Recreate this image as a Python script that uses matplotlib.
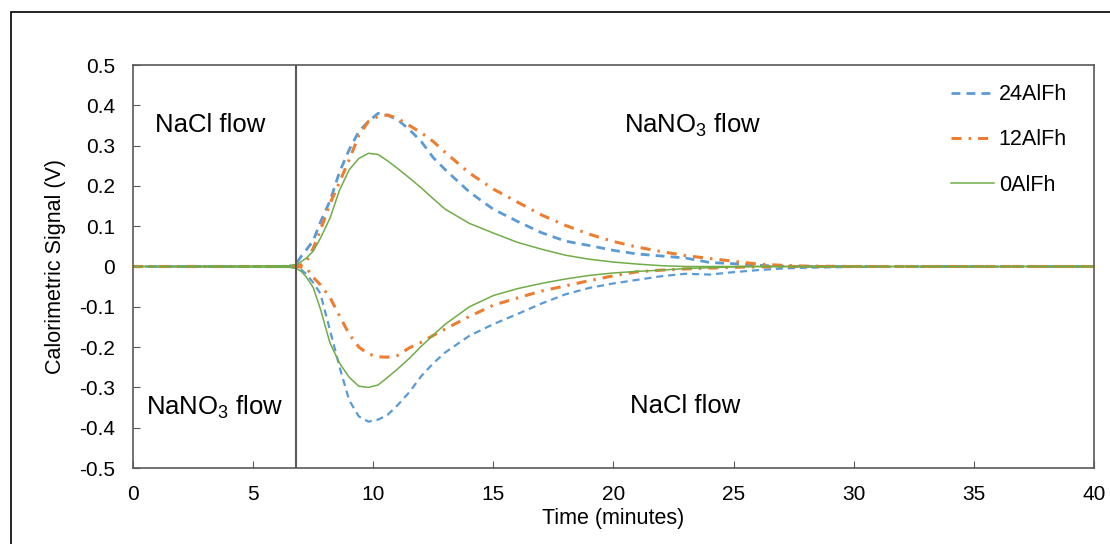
import numpy as np
import matplotlib.pyplot as plt
from matplotlib.patches import Rectangle

plt.rcParams['font.family'] = ['Liberation Sans', 'DejaVu Sans']
plt.rcParams['mathtext.fontset'] = 'custom'
plt.rcParams['mathtext.rm'] = 'Liberation Sans'
plt.rcParams['mathtext.it'] = 'Liberation Sans'
plt.rcParams['mathtext.bf'] = 'Liberation Sans'

# time grid (minutes)
t = [0, 6.5, 6.8, 7.0, 7.2, 7.5, 7.8, 8.2, 8.6, 9.0, 9.4, 9.8, 10.2, 10.6, 11.0, 11.5,
     12.0, 12.5, 13.0, 14.0, 15.0, 16.0, 17.0, 18.0, 19.0, 20.0, 21.0, 22.0, 23.0,
     24.0, 25.0, 26.0, 27.0, 28.0, 30.0, 40.0]

# 24AlFh
up_24 = [0, 0, 0.008, 0.025, 0.04, 0.064, 0.11, 0.163, 0.235, 0.29, 0.335, 0.36, 0.38,
         0.375, 0.365, 0.34, 0.31, 0.27, 0.24, 0.185, 0.142, 0.112, 0.084, 0.063, 0.052,
         0.04, 0.031, 0.026, 0.021, 0.01, 0.007, 0.003, 0.001, 0, 0, 0]
dn_24 = [0, 0, -0.003, -0.008, -0.018, -0.04, -0.067, -0.158, -0.25, -0.332, -0.372,
         -0.385, -0.38, -0.368, -0.345, -0.312, -0.272, -0.24, -0.213, -0.172, -0.143,
         -0.118, -0.092, -0.069, -0.053, -0.042, -0.033, -0.024, -0.018, -0.02, -0.014,
         -0.009, -0.005, -0.003, -0.001, 0]

# 12AlFh
up_12 = [0, 0, 0.003, 0.004, 0.01, 0.045, 0.09, 0.156, 0.21, 0.265, 0.325, 0.36, 0.372,
         0.376, 0.368, 0.35, 0.332, 0.31, 0.283, 0.232, 0.192, 0.16, 0.128, 0.102, 0.08,
         0.062, 0.048, 0.037, 0.027, 0.02, 0.013, 0.006, 0.003, 0.001, 0, 0]
dn_12 = [0, 0, -0.001, -0.001, -0.002, -0.027, -0.045, -0.077, -0.123, -0.168, -0.2,
         -0.217, -0.224, -0.225, -0.221, -0.202, -0.188, -0.171, -0.155, -0.124, -0.096,
         -0.078, -0.061, -0.048, -0.035, -0.023, -0.013, -0.009, -0.006, -0.004, -0.002,
         -0.001, 0, 0, 0, 0]

# 0AlFh
up_0 = [0, 0.002, 0.005, 0.012, 0.02, 0.038, 0.07, 0.12, 0.19, 0.24, 0.268, 0.281, 0.278,
        0.262, 0.244, 0.22, 0.195, 0.168, 0.142, 0.107, 0.083, 0.06, 0.043, 0.028, 0.018,
        0.011, 0.006, 0.002, 0, 0, 0, 0, 0, 0, 0, 0]
dn_0 = [0, -0.002, -0.005, -0.012, -0.025, -0.052, -0.105, -0.19, -0.24, -0.275, -0.297,
        -0.3, -0.294, -0.275, -0.255, -0.228, -0.198, -0.17, -0.143, -0.1, -0.072, -0.055,
        -0.042, -0.031, -0.022, -0.016, -0.012, -0.009, -0.005, -0.003, -0.001, 0, 0, 0, 0, 0]

switch_time = 6.8

blue = '#5B9BD5'
orange = '#ED7D31'
green = '#70AD47'
dash_24 = (0, (3.2, 2.2))
dash_12 = (0, (3.3, 2.3, 0.8, 2.3))

fig = plt.figure(figsize=(11.1, 5.44), dpi=100)
ax = fig.add_axes([0.1198, 0.1397, 0.8658, 0.7408])

# outer frame
fig.patches.append(Rectangle((11 / 1110, -0.1), 1.2, 1.1 - 12 / 544, transform=fig.transFigure,
                             fill=False, edgecolor='black', linewidth=1.2, clip_on=False))

ax.plot(t, up_24, color=blue, lw=2, ls=dash_24, label='24AlFh')
ax.plot(t, dn_24, color=blue, lw=1.6, ls=dash_24)
ax.plot(t, up_12, color=orange, lw=2.2, ls=dash_12, label='12AlFh')
ax.plot(t, dn_12, color=orange, lw=2.2, ls=dash_12)
ax.plot(t, up_0, color=green, lw=1.1, label='0AlFh')
ax.plot(t, dn_0, color=green, lw=1.1)

ax.axvline(switch_time, color='#595959', lw=1.5)

ax.set_xlim(0, 40)
ax.set_ylim(-0.5, 0.5)
ax.set_xticks(np.arange(0, 41, 5))
ax.set_yticks(np.round(np.arange(-0.5, 0.51, 0.1), 1))
ax.set_yticklabels(['-0.5', '-0.4', '-0.3', '-0.2', '-0.1', '0', '0.1', '0.2', '0.3', '0.4', '0.5'])
ax.tick_params(direction='in', length=5, color='#595959', labelsize=15)
ax.tick_params(axis='y', pad=13)
ax.tick_params(axis='x', pad=12)
for s in ax.spines.values():
    s.set_color('#595959')
    s.set_linewidth(1.2)

ax.set_xlabel('Time (minutes)', fontsize=15.5, labelpad=3)
ax.set_ylabel('Calorimetric Signal (V)', fontsize=15.5, labelpad=9)

ax.text(3.2, 0.35, 'NaCl flow', fontsize=18.5, ha='center', va='center')
ax.text(23.3, 0.35, 'NaNO$_3$ flow', fontsize=18.5, ha='center', va='center')
ax.text(3.4, -0.35, 'NaNO$_3$ flow', fontsize=18.5, ha='center', va='center')
ax.text(23.0, -0.345, 'NaCl flow', fontsize=18.5, ha='center', va='center')

ax.legend(loc='upper right', frameon=False, fontsize=15.5, handlelength=2.0,
          labelspacing=1.12, handletextpad=0.2, bbox_to_anchor=(0.992, 1.0))

fig.savefig('out.png', dpi=100)
